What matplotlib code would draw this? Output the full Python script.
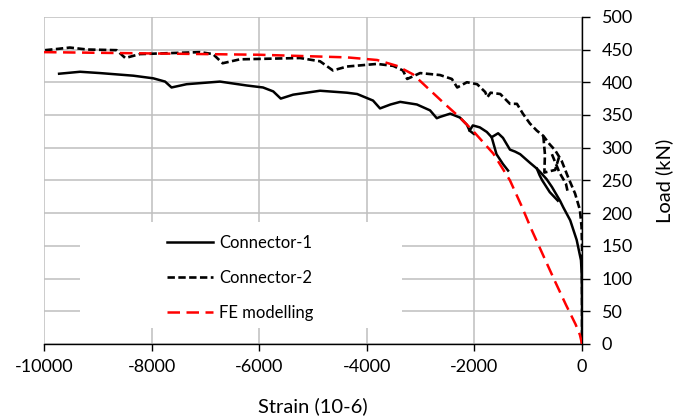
import numpy as np
import matplotlib
matplotlib.use("Agg")
import matplotlib.pyplot as plt
from matplotlib.patches import Rectangle

plt.rcParams['font.family'] = ['Lato', 'DejaVu Sans']
plt.rcParams['axes.unicode_minus'] = False

# Connector-1 (solid), main curve from origin outward
c1_strain = [0, 0, -5, -10, -20, -100, -220, -350, -410, -560, -660, -780, -840, -970,
             -1150, -1245, -1340, -1470, -1560, -1680, -1770, -1900, -2030, -2090, -2140,
             -2270, -2450, -2640, -2700, -2825, -3070, -3380, -3560, -3755, -3885, -4180,
             -4370, -4870, -5370, -5600, -5740, -5930, -6230, -6730, -7350, -7630, -7750,
             -7970, -8340, -8960, -9330, -9720]
c1_load = [0, 55, 100, 113, 128, 159, 189, 209, 219, 240, 252, 263, 268, 277,
           290, 294, 297, 315, 322, 316, 324, 331, 334, 326, 335,
           346, 352, 347, 345, 357, 366, 370, 366, 360, 372, 382,
           384, 387, 381, 375, 386, 392, 395, 401, 397, 392, 401,
           406, 410, 414, 416, 413]
# Connector-1 unloading spurs
c1s_strain = [-1680, -1590, -1470, -1375, np.nan, -2090, -2010, np.nan,
              -840, -790, -740, -600, -450]
c1s_load = [316, 290, 275, 265, np.nan, 326, 321, np.nan,
            268, 258, 250, 232, 219]

# Connector-2 (black dashed)
c2_strain = [-9980, -9740, -9520, -9200, -8650, -8490, -8220, -7100, -6860, -6680, -6360,
             -5240, -4870, -4630, -4370, -3810, -3510, -3330, -3250, -3010, -2640, -2420,
             -2320, -2140, -1950, -1800, -1760, -1700, -1520, -1340, -1210, -1100, -970,
             -840, -720, -600, -500, -380, -260, -130, -40, -10, 0, 0]
c2_load = [449, 451, 453, 450, 449, 437, 443, 446, 443, 429, 435,
           437, 432, 418, 424, 428, 425, 418, 405, 414, 411, 405,
           392, 400, 397, 385, 377, 384, 382, 367, 367, 352, 337,
           326, 318, 305, 296, 280, 255, 230, 205, 180, 150, 0]
# Connector-2 loop near the end
c2s_strain = [-720, -690, -700, -500, -430, np.nan, -560, -420, -300, -260]
c2s_load = [318, 290, 262, 266, 285, np.nan, 290, 262, 245, 230]

# FE modelling (red dashed)
fe_strain = [-10000, -8000, -6000, -4370, -3810, -3440, -3140, -2880, -2580, -2270,
             -2030, -1650, -1340, -1130, -940, -720, -510, -300, -120, -40, 0]
fe_load = [446, 444, 442, 438, 434, 425, 412, 392, 369, 346,
           326, 291, 250, 212, 175, 135, 97, 60, 30, 14, 0]

x_ticks = [-10000, -8000, -6000, -4000, -2000, 0]
y_ticks = [0, 50, 100, 150, 200, 250, 300, 350, 400, 450, 500]

fig = plt.figure(figsize=(6.88, 4.2), dpi=100)
ax = fig.add_axes([0.064, 0.181, 0.782, 0.779])

lw = 1.8
ax.plot(c1_strain, c1_load, color='black', lw=lw, solid_joinstyle='round',
        label='Connector-1', zorder=3)
ax.plot(c1s_strain, c1s_load, color='black', lw=lw, zorder=3)
ax.plot(c2_strain, c2_load, color='black', lw=1.9, dashes=[2.8, 1.3],
        label='Connector-2', zorder=3)
ax.plot(c2s_strain, c2s_load, color='black', lw=1.9, dashes=[2.8, 1.3], zorder=3)
ax.plot(fe_strain, fe_load, color='#FF0000', lw=lw, dashes=[5.0, 2.6],
        label='FE modelling', zorder=4)

ax.set_xlim(-10000, 0)
ax.set_ylim(0, 500)
ax.set_xticks(x_ticks)
ax.set_yticks(y_ticks)
ax.yaxis.tick_right()
ax.yaxis.set_label_position('right')
ax.tick_params(axis='both', labelsize=13, direction='out', color='black')
ax.tick_params(axis='y', length=6, width=1, pad=8)
ax.tick_params(axis='x', length=5, width=1, pad=6)

ax.set_axisbelow(True)
ax.grid(True, color='#BFBFBF', lw=1.1)
for s in ['top', 'left']:
    ax.spines[s].set_visible(False)
ax.spines['right'].set_color('black')
ax.spines['bottom'].set_color('black')
ax.spines['right'].set_linewidth(1)
ax.spines['bottom'].set_linewidth(1)

ax.set_xlabel('Strain (10-6)', fontsize=14.5, labelpad=16)
ax.set_ylabel('Load (kN)', fontsize=14.5, labelpad=16)

# white legend box hiding the grid behind it
ax.add_patch(Rectangle((0.067, 0.049), 0.598, 0.324, transform=ax.transAxes,
                       facecolor='white', edgecolor='none', zorder=1))
ax.legend(loc='upper left', bbox_to_anchor=(0.228, 0.334), frameon=False,
          fontsize=12, handlelength=2.75, handletextpad=0.4, labelspacing=1.15,
          borderpad=0, borderaxespad=0)

fig.savefig('out.png', dpi=100)
